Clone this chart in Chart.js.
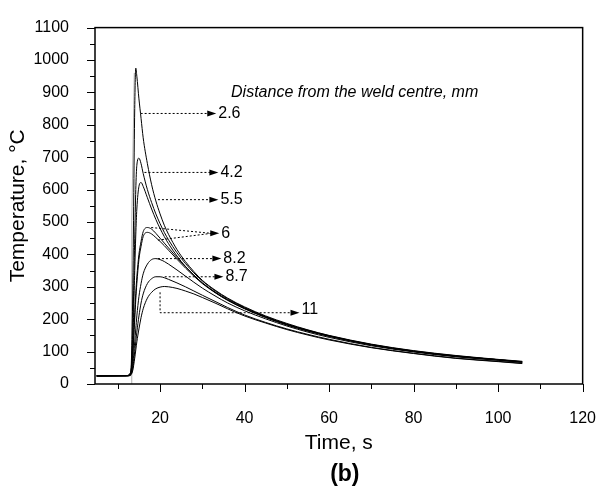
<!DOCTYPE html>
<html>
<head>
<meta charset="utf-8">
<script src="https://cdn.jsdelivr.net/npm/chart.js@4.4.1/dist/chart.umd.min.js"></script>
<style>
  body { margin: 0; background: #fff; }
  #wrap { width: 613px; height: 489px; }
</style>
</head>
<body>
<div id="wrap"><canvas id="tempChart"></canvas></div>
<script>
// time axis (s) shared by all curves
const times = [5, 12, 13, 13.5, 14, 14.25, 14.5, 15, 15.5, 16, 17, 18, 19, 20, 21, 22, 24, 26, 28, 30, 33, 36, 40, 45, 50, 55, 60, 70, 80, 90, 100, 105.7];

// temperature (°C) at each distance from the weld centre
const t26  = [25, 25, 26, 250, 850, 975, 950, 880, 820, 760, 680, 615, 565, 525, 490, 462, 415, 378, 347, 320, 290, 265, 238, 210, 187, 167, 150, 123, 103, 88, 76, 70];
const t42  = [25, 25, 30, 150, 450, 600, 675, 697, 680, 650, 600, 560, 525, 495, 468, 445, 405, 372, 343, 318, 288, 263, 236, 208, 185, 166, 149, 122, 102, 87, 75, 69];
const t55  = [25, 25, 28, 110, 350, 460, 540, 610, 622, 610, 575, 540, 508, 480, 455, 433, 395, 363, 336, 312, 283, 259, 233, 206, 183, 164, 148, 121, 101, 86, 75, 68];
const t6a  = [25, 26, 35, 90, 220, 280, 330, 400, 440, 470, 483, 478, 465, 450, 435, 420, 390, 362, 336, 312, 284, 260, 234, 207, 184, 165, 148, 121, 101, 86, 75, 68];
const t6b  = [25, 26, 33, 80, 200, 260, 310, 385, 425, 455, 468, 463, 452, 440, 427, 413, 385, 358, 333, 310, 282, 258, 232, 205, 182, 163, 147, 120, 100, 85, 74, 67];
const t82  = [25, 26, 30, 55, 130, 170, 210, 270, 310, 340, 370, 384, 387, 384, 378, 370, 352, 333, 314, 296, 272, 250, 226, 201, 179, 160, 144, 118, 99, 84, 73, 67];
const t87  = [25, 26, 29, 45, 100, 130, 160, 210, 250, 278, 310, 325, 331, 331, 328, 323, 312, 300, 287, 274, 255, 236, 213, 190, 170, 153, 138, 113, 95, 80, 70, 64];
const t11  = [25, 26, 28, 40, 80, 105, 130, 170, 205, 232, 265, 283, 294, 299, 301, 300, 295, 287, 278, 267, 250, 232, 210, 188, 168, 151, 136, 112, 94, 79, 69, 63];

// faint vertical trace at the start of heating
const startX = [13.3, 13.3, 13.9];
const startY = [0, 500, 960];

const seriesList = [t26, t42, t55, t6a, t6b, t82, t87, t11];

const xTicks = [20, 40, 60, 80, 100, 120];
const yTicks = [0, 100, 200, 300, 400, 500, 600, 700, 800, 900, 1000, 1100];

// arrows from the curves to the labels, in data units
const arrows = [
  { from: [[15.4, 835]], to: [33.3, 835], label: "2.6" },
  { from: [[16.3, 653]], to: [33.8, 653], label: "4.2" },
  { from: [[19.5, 569]], to: [33.8, 569], label: "5.5" },
  { from: [[17.9, 483], [19.5, 444]], to: [34.0, 465], label: "6" },
  { from: [[19.5, 387]], to: [34.5, 387], label: "8.2" },
  { from: [[21.1, 331]], to: [35.0, 331], label: "8.7" }
];

const FONT = "'Liberation Sans', Arial, sans-serif";

function pts(ys) {
  return times.map((t, i) => ({ x: t, y: ys[i] }));
}

const datasets = seriesList.map(ys => ({
  data: pts(ys),
  borderColor: "#000",
  borderWidth: 1,
  pointRadius: 0,
  fill: false,
  cubicInterpolationMode: "monotone"
}));
datasets.push({
  data: startX.map((x, i) => ({ x: x, y: startY[i] })),
  borderColor: "#b0b0b0",
  borderWidth: 1,
  pointRadius: 0,
  fill: false
});

const extras = {
  id: "extras",
  afterDraw(chart) {
    const ctx = chart.ctx;
    const xs = chart.scales.x;
    const ys = chart.scales.y;
    const a = chart.chartArea;
    ctx.save();

    // frame
    ctx.strokeStyle = "#000";
    ctx.lineWidth = 1.5;
    ctx.strokeRect(a.left, a.top, a.right - a.left, a.bottom - a.top);

    // ticks, outward
    ctx.lineWidth = 1;
    for (let v = 10; v <= 120; v += 10) {
      const px = Math.round(xs.getPixelForValue(v)) + 0.5;
      const len = v % 20 === 0 ? 8 : 5;
      ctx.beginPath();
      ctx.moveTo(px, a.bottom);
      ctx.lineTo(px, a.bottom + len);
      ctx.stroke();
    }
    for (let v = 0; v <= 1100; v += 50) {
      const py = Math.round(ys.getPixelForValue(v)) + 0.5;
      const len = v % 100 === 0 ? 8 : 5;
      ctx.beginPath();
      ctx.moveTo(a.left, py);
      ctx.lineTo(a.left - len, py);
      ctx.stroke();
    }

    // arrows
    ctx.fillStyle = "#000";
    ctx.font = "16px " + FONT;
    ctx.textBaseline = "middle";
    ctx.textAlign = "left";
    function head(x, y) {
      ctx.beginPath();
      ctx.moveTo(x, y);
      ctx.lineTo(x - 9, y - 3);
      ctx.lineTo(x - 9, y + 3);
      ctx.closePath();
      ctx.fill();
    }
    arrows.forEach(ar => {
      const tx = xs.getPixelForValue(ar.to[0]);
      const ty = ys.getPixelForValue(ar.to[1]);
      ctx.setLineDash([2, 2]);
      ar.from.forEach(f => {
        ctx.beginPath();
        ctx.moveTo(xs.getPixelForValue(f[0]), ys.getPixelForValue(f[1]));
        ctx.lineTo(tx - 8, ty);
        ctx.stroke();
      });
      ctx.setLineDash([]);
      head(tx, ty);
      ctx.fillText(ar.label, tx + 2, ty);
    });

    // the 11 mm arrow bends down first
    const bx = xs.getPixelForValue(20);
    const by0 = ys.getPixelForValue(283);
    const by1 = ys.getPixelForValue(220);
    const ex = xs.getPixelForValue(53);
    ctx.setLineDash([2, 2]);
    ctx.beginPath();
    ctx.moveTo(bx, by0);
    ctx.lineTo(bx, by1);
    ctx.lineTo(ex - 8, by1);
    ctx.stroke();
    ctx.setLineDash([]);
    head(ex, by1);
    ctx.fillText("11", ex + 2, by1 - 3);

    // note
    ctx.font = "italic 16px " + FONT;
    ctx.fillText("Distance from the weld centre, mm", xs.getPixelForValue(36.8), ys.getPixelForValue(900));

    // axis titles
    ctx.textAlign = "center";
    ctx.font = "21px " + FONT;
    ctx.fillText("Time, s", (a.left + a.right) / 2, 443);
    ctx.font = "bold 23px " + FONT;
    ctx.fillText("(b)", (a.left + a.right) / 2 + 6, 475);

    ctx.translate(18, (a.top + a.bottom) / 2);
    ctx.rotate(-Math.PI / 2);
    ctx.font = "21px " + FONT;
    ctx.fillText("Temperature, \u00B0C", 0, 0);
    ctx.restore();
  }
};

new Chart(document.getElementById("tempChart"), {
  type: "line",
  data: { datasets: datasets },
  options: {
    responsive: true,
    maintainAspectRatio: false,
    animation: false,
    events: [],
    layout: { padding: { top: 15, right: 15, left: 0, bottom: 0 } },
    plugins: { legend: { display: false }, tooltip: { enabled: false } },
    scales: {
      x: {
        type: "linear",
        min: 4.6,
        max: 120,
        afterBuildTicks: s => { s.ticks = xTicks.map(v => ({ value: v })); },
        afterFit: s => { s.height = 105; },
        grid: { display: false },
        border: { display: false },
        ticks: { color: "#000", font: { family: FONT, size: 16 }, padding: 17, maxRotation: 0, callback: v => String(v) }
      },
      y: {
        type: "linear",
        min: 0,
        max: 1100,
        afterBuildTicks: s => { s.ticks = yTicks.map(v => ({ value: v })); },
        afterFit: s => { s.width = 95; },
        grid: { display: false },
        border: { display: false },
        ticks: { color: "#000", font: { family: FONT, size: 16 }, padding: 18, callback: v => String(v) }
      }
    }
  },
  plugins: [extras]
});
</script>
</body>
</html>
